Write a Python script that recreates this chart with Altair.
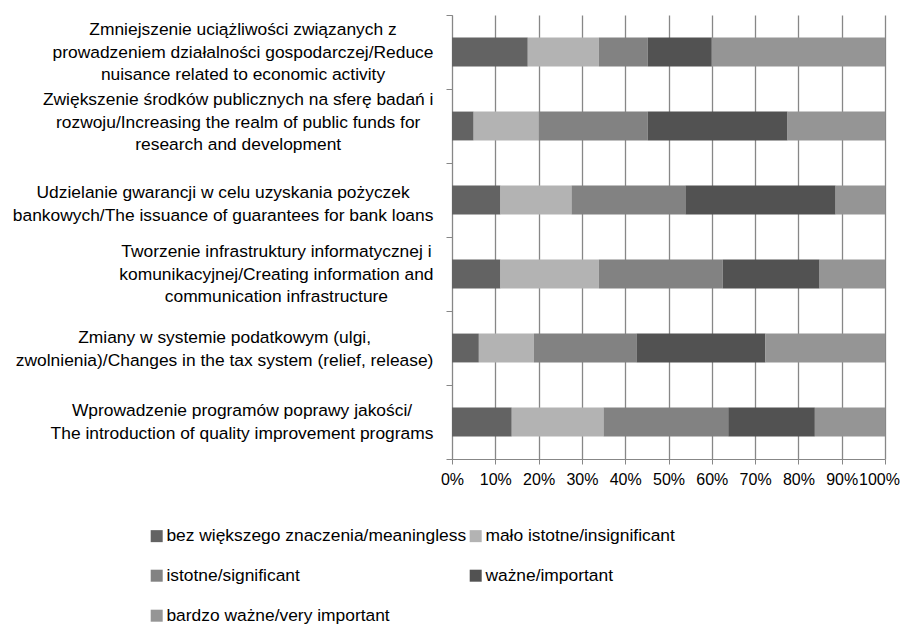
import altair as alt
import pandas as pd

categories = [
    "Zmniejszenie uciążliwości związanych z|prowadzeniem działalności gospodarczej/Reduce|nuisance related to economic activity",
    "Zwiększenie środków publicznych na sferę badań i|rozwoju/Increasing the realm of public funds for|research and development",
    "Udzielanie gwarancji w celu uzyskania pożyczek|bankowych/The issuance of guarantees for bank loans",
    "Tworzenie infrastruktury informatycznej i|komunikacyjnej/Creating information and|communication infrastructure",
    "Zmiany w systemie podatkowym (ulgi,|zwolnienia)/Changes in the tax system (relief, release)",
    "Wprowadzenie programów poprawy jakości/|The introduction of quality improvement programs",
]
series = [
    "bez większego znaczenia/meaningless",
    "mało istotne/insignificant",
    "istotne/significant",
    "ważne/important",
    "bardzo ważne/very important",
]
colors = ["#636363", "#b3b3b3", "#828282", "#525252", "#959595"]

s1 = [17.5, 5.0, 11.2, 11.2, 6.2, 13.8]
s2 = [16.4, 15.0, 16.4, 22.7, 12.7, 21.2]
s3 = [11.3, 25.2, 26.3, 28.6, 23.7, 28.8]
s4 = [14.8, 32.3, 34.7, 22.4, 29.8, 20.0]
s5 = [40.0, 22.5, 11.4, 15.1, 27.6, 16.2]
x_ticks = [0, 0.1, 0.2, 0.3, 0.4, 0.5, 0.6, 0.7, 0.8, 0.9, 1.0]

# approximate glyph advance widths (Liberation Sans metrics, per 1000 em),
# used only to centre the lines of each multi-line axis label
_w = {}
for ch, v in zip("abcdefghijklmnopqrstuvwxyz",
                 [556, 556, 500, 556, 556, 278, 556, 556, 222, 222, 500, 222, 833,
                  556, 556, 556, 556, 333, 500, 278, 556, 500, 722, 500, 500, 500]):
    _w[ch] = v
for ch, v in zip("ABCDEFGHIJKLMNOPQRSTUVWXYZ",
                 [667, 667, 722, 722, 667, 611, 778, 722, 278, 500, 667, 556, 833,
                  722, 778, 667, 778, 722, 667, 611, 722, 667, 944, 667, 667, 611]):
    _w[ch] = v
_w.update({" ": 278, "/": 278, "(": 333, ")": 333, ",": 278, ".": 278,
           "ą": 556, "ę": 556, "ó": 556, "ś": 500, "ć": 500, "ż": 500,
           "ź": 500, "ń": 556, "ł": 222})

FONT = "Liberation Sans"
YFS = 17.4
LH = 22.5
label_shift = [0, -4, 4, 0, 1, 0]


def _maxw(label):
    return max(sum(_w.get(c, 556) for c in line) for line in label.split("|")) * YFS / 1000


pad_cond = []
off_cond = []
for c, d in zip(categories, label_shift):
    n = len(c.split("|"))
    test = "datum.value === '%s'" % c
    pad_cond.append({"test": test, "value": round(13 + _maxw(c) / 2, 1)})
    off_cond.append({"test": test, "value": round(-(n - 1) * LH / 2 + d, 2)})

rows = []
for si, (name, vals) in enumerate(zip(series, [s1, s2, s3, s4, s5])):
    for cat, v in zip(categories, vals):
        rows.append({"cat": cat, "series": name, "idx": si, "value": v / 100})
df = pd.DataFrame(rows)

chart = alt.Chart(df).mark_bar(height={"band": 0.39}).encode(
    y=alt.Y(
        "cat:N",
        sort=categories,
        title=None,
        scale=alt.Scale(paddingInner=0, paddingOuter=0),
        axis=alt.Axis(
            labelExpr="split(datum.label, '|')",
            labelFont=FONT,
            labelFontSize=YFS,
            labelLineHeight=LH,
            labelColor="#000000",
            labelLimit=600,
            labelAlign="center",
            labelPadding={"condition": pad_cond, "value": 13},
            labelOffset={"condition": off_cond, "value": 0},
            tickBand="extent",
            tickSize=6,
            tickColor="#878787",
            domainColor="#878787",
            grid=False,
        ),
    ),
    x=alt.X(
        "value:Q",
        stack="zero",
        title=None,
        scale=alt.Scale(domain=[0, 1], nice=False),
        axis=alt.Axis(
            values=x_ticks,
            format=".0%",
            labelFont=FONT,
            labelFontSize=16,
            labelColor="#000000",
            labelPadding=7,
            labelOverlap=False,
            labelFlush=False,
            labelOffset={"condition": {"test": "datum.value === 1", "value": -6}, "value": 0},
            tickSize=5,
            tickColor="#878787",
            domainColor="#878787",
            grid=True,
            gridColor="#878787",
            gridWidth=1.3,
            gridOpacity=1,
        ),
    ),
    color=alt.Color(
        "series:N",
        scale=alt.Scale(domain=series, range=colors),
        legend=alt.Legend(
            title=None,
            orient="none",
            legendX=-304,
            legendY=512,
            columns=2,
            direction="horizontal",
            symbolType="square",
            symbolSize=144,
            symbolStrokeWidth=0,
            labelFont=FONT,
            labelFontSize=17.4,
            labelColor="#000000",
            labelLimit=600,
            labelOffset=1,
            rowPadding=21,
            columnPadding=0,
        ),
    ),
    order=alt.Order("idx:Q", sort="ascending"),
).properties(
    width=433,
    height=444,
    autosize=alt.AutoSizeParams(type="none"),
    padding={"left": 444, "top": 7, "right": 15, "bottom": 166},
).configure_view(stroke=None)

chart.save("out.html", embed_options={"renderer": "svg", "actions": False})
